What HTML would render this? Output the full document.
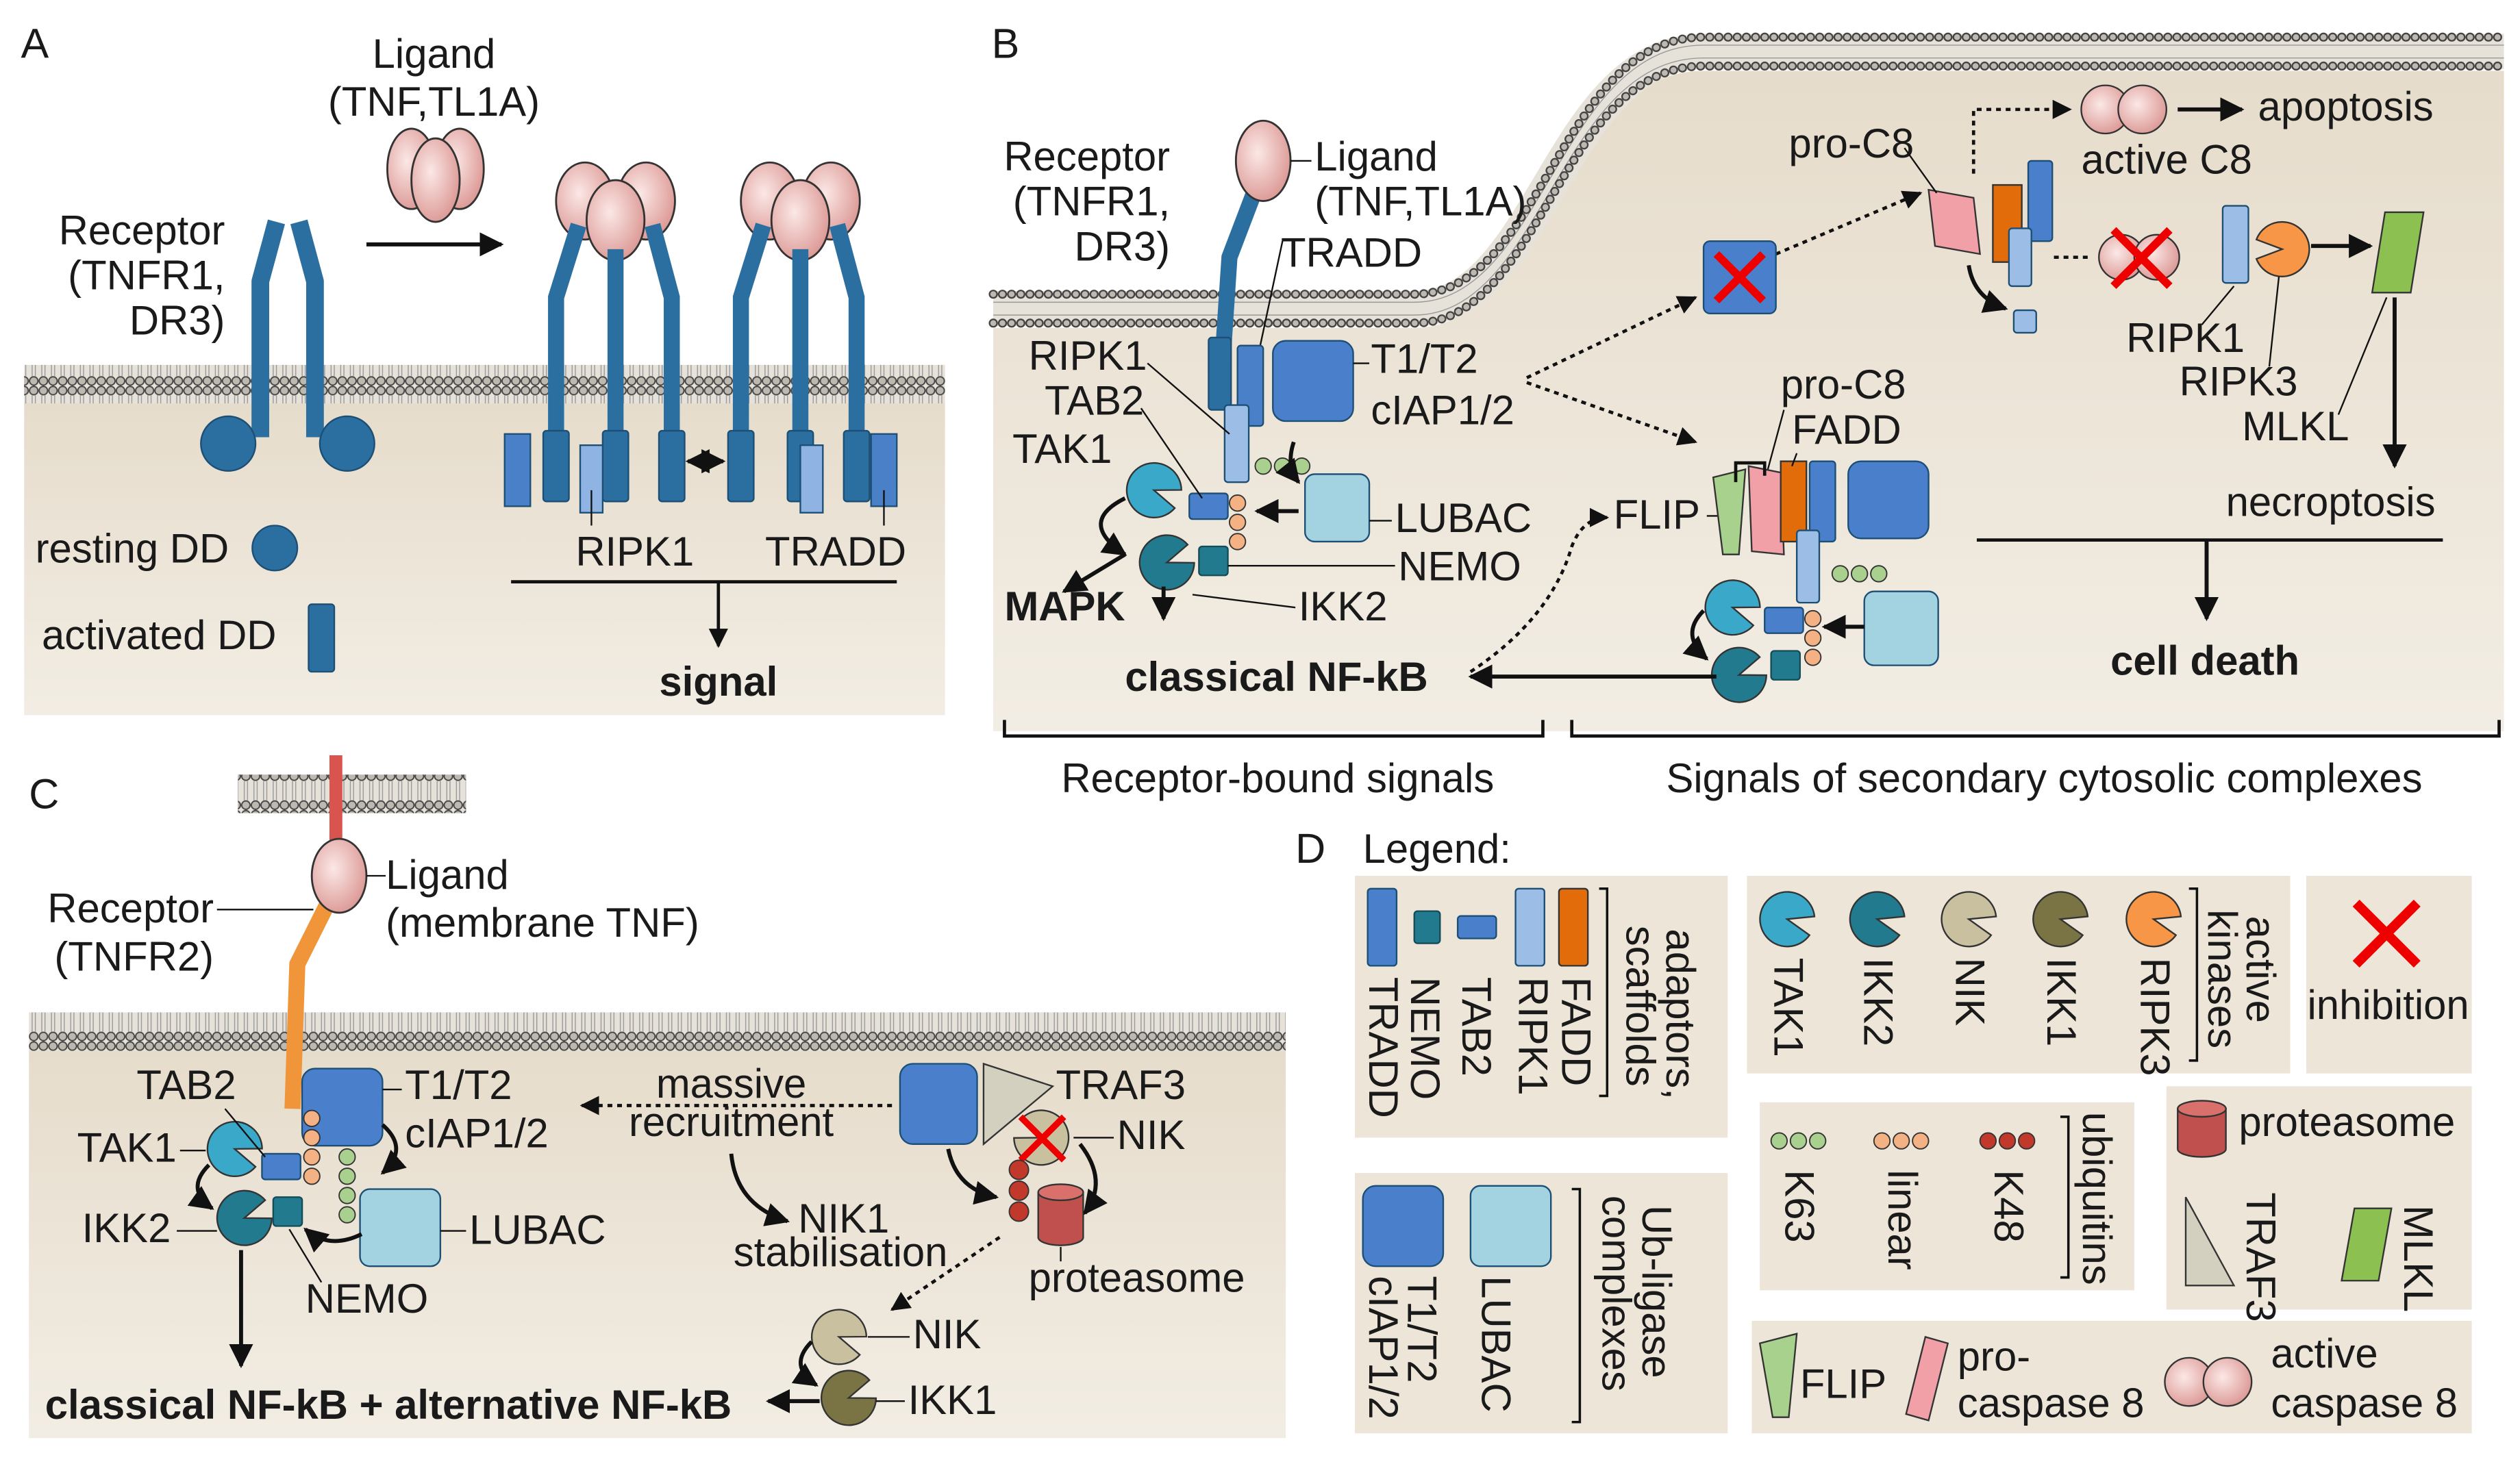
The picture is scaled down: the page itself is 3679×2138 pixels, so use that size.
<!DOCTYPE html>
<html><head><meta charset="utf-8"><style>
html,body{margin:0;padding:0;background:#fff}
svg{display:block}
text{font-family:"Liberation Sans",sans-serif;font-size:25.5px;fill:#1a1a1a}
.b{font-weight:bold}
</style></head><body>
<svg width="3679" height="2138" viewBox="0 0 1568 911" xmlns="http://www.w3.org/2000/svg">
<defs>
<pattern id="mem" patternUnits="userSpaceOnUse" width="6" height="24">
<rect width="6" height="24" fill="#e6e2da"/>
<line x1="2" y1="6" x2="2" y2="18" stroke="#999" stroke-width="0.6"/>
<line x1="4" y1="6" x2="4" y2="18" stroke="#999" stroke-width="0.6"/>
<circle cx="3" cy="3" r="2.6" fill="#bdb8b0" stroke="#444" stroke-width="0.8"/>
<circle cx="3" cy="21" r="2.6" fill="#bdb8b0" stroke="#444" stroke-width="0.8"/>
</pattern>
<linearGradient id="cyt" x1="0" y1="0" x2="0" y2="1"><stop offset="0" stop-color="#e6dccb"/><stop offset="1" stop-color="#f2ede4"/></linearGradient>
<radialGradient id="pink" cx="0.4" cy="0.4" r="0.7"><stop offset="0" stop-color="#fbe8e6"/><stop offset="1" stop-color="#d9918d"/></radialGradient>
<path id="pac" d="M0,0 L16,-6 A17,17 0 1 0 16,6 Z" stroke="#333" stroke-width="1"/>
<marker id="ar" viewBox="0 0 10 10" refX="9" refY="5" markerWidth="6" markerHeight="6" orient="auto-start-reverse"><path d="M0,0 L10,5 L0,10 Z" fill="#111"/></marker>
</defs>

<!-- ===== Panel A ===== -->
<rect x="15" y="250" width="573" height="195" fill="url(#cyt)"/>
<rect x="15" y="227" width="573" height="24" fill="url(#mem)"/>
<text x="13" y="36" style="font-size:26px">A</text>
<text x="270" y="42" text-anchor="middle">Ligand</text>
<text x="270" y="72" text-anchor="middle">(TNF,TL1A)</text>
<g fill="url(#pink)" stroke="#333" stroke-width="1.2">
<ellipse cx="256" cy="105" rx="15" ry="25"/><ellipse cx="286" cy="105" rx="15" ry="25"/><ellipse cx="271" cy="112" rx="15" ry="26"/></g>
<line x1="228" y1="152" x2="312" y2="152" stroke="#111" stroke-width="2.5" marker-end="url(#ar)"/>
<text x="140" y="152" text-anchor="end">Receptor</text>
<text x="140" y="180" text-anchor="end">(TNFR1,</text>
<text x="140" y="208" text-anchor="end">DR3)</text>
<g stroke="#2b6ea0" stroke-width="11" fill="none" stroke-linejoin="round">
<path d="M172,138 L162,175 L162,272"/><path d="M186,138 L196,175 L196,272"/></g>
<g fill="#2b6ea0" stroke="#1d4f75" stroke-width="1"><circle cx="142" cy="276" r="17"/><circle cx="216" cy="276" r="17"/></g>
<g id="actA">
<g fill="url(#pink)" stroke="#333" stroke-width="1.2"><ellipse cx="364" cy="125" rx="18" ry="24"/><ellipse cx="402" cy="125" rx="18" ry="24"/><ellipse cx="383" cy="137" rx="18" ry="25"/></g>
<g stroke="#2b6ea0" stroke-width="10" fill="none"><path d="M360,140 L346,185 L346,300"/><path d="M383,155 L383,300"/><path d="M406,140 L418,185 L418,300"/></g>
<g fill="#2b6ea0" stroke="#1d4f75" stroke-width="1"><rect x="338" y="268" width="16" height="44" rx="2"/><rect x="375" y="268" width="16" height="44" rx="2"/><rect x="410" y="268" width="16" height="44" rx="2"/></g>
</g>
<use href="#actA" x="115"/>
<rect x="314" y="270" width="16" height="45" fill="#4a80c8" stroke="#1d4f75"/>
<rect x="361" y="277" width="14" height="42" fill="#8fb3e3" stroke="#1d4f75"/>
<rect x="498" y="277" width="14" height="42" fill="#8fb3e3" stroke="#1d4f75"/>
<rect x="542" y="270" width="16" height="45" fill="#4a80c8" stroke="#1d4f75"/>
<line x1="368" y1="305" x2="368" y2="327" stroke="#111"/><line x1="550" y1="305" x2="550" y2="327" stroke="#111"/>
<line x1="428" y1="287" x2="450" y2="287" stroke="#111" stroke-width="2.5" marker-end="url(#ar)" marker-start="url(#ar)"/>
<text x="395" y="352" text-anchor="middle">RIPK1</text>
<text x="520" y="352" text-anchor="middle">TRADD</text>
<line x1="318" y1="362" x2="558" y2="362" stroke="#111" stroke-width="2"/>
<line x1="447" y1="362" x2="447" y2="402" stroke="#111" stroke-width="2" marker-end="url(#ar)"/>
<text x="447" y="433" text-anchor="middle" class="b">signal</text>
<text x="22" y="350">resting DD</text>
<circle cx="171" cy="341" r="14" fill="#2b6ea0" stroke="#1d4f75"/>
<text x="26" y="404">activated DD</text>
<rect x="192" y="376" width="16" height="42" rx="2" fill="#2b6ea0" stroke="#1d4f75"/>

<!-- ===== Panel B ===== -->
<path d="M618,204 L880,204 C960,204 970,44 1060,44 L1558,44 L1558,455 L618,455 Z" fill="url(#cyt)"/>
<path d="M618,192 L880,192 C960,192 970,32 1060,32 L1558,32" fill="none" stroke="#e6e2da" stroke-width="22"/>
<g fill="none" stroke="#999" stroke-width="0.6">
<path d="M618,188 L880,188 C960,188 970,28 1060,28 L1558,28"/><path d="M618,196 L880,196 C960,196 970,36 1060,36 L1558,36"/></g>
<g fill="none" stroke-dasharray="0.1 5.6" stroke-linecap="round">
<path d="M618,183 L880,183 C960,183 970,23 1060,23 L1558,23" stroke="#444" stroke-width="5.6"/>
<path d="M618,201 L880,201 C960,201 970,41 1060,41 L1558,41" stroke="#444" stroke-width="5.6"/>
<path d="M618,183 L880,183 C960,183 970,23 1060,23 L1558,23" stroke="#bdb8b0" stroke-width="3.6"/>
<path d="M618,201 L880,201 C960,201 970,41 1060,41 L1558,41" stroke="#bdb8b0" stroke-width="3.6"/></g>
<text x="617" y="36" style="font-size:26px">B</text>
<text x="728" y="106" text-anchor="end">Receptor</text>
<text x="728" y="134" text-anchor="end">(TNFR1,</text>
<text x="728" y="162" text-anchor="end">DR3)</text>
<path d="M781,118 L765,160 L760,235" stroke="#2b6ea0" stroke-width="10" fill="none"/>
<ellipse cx="786" cy="100" rx="17" ry="25" fill="url(#pink)" stroke="#333" stroke-width="1.2"/>
<line x1="803" y1="100" x2="816" y2="100" stroke="#111"/>
<text x="818" y="106">Ligand</text>
<text x="818" y="134">(TNF,TL1A)</text>
<text x="797" y="166">TRADD</text>
<line x1="798" y1="150" x2="782" y2="225" stroke="#111"/>
<rect x="752" y="210" width="14" height="45" rx="2" fill="#2b6ea0" stroke="#1d4f75"/>
<rect x="770" y="215" width="16" height="50" rx="2" fill="#4a80c8" stroke="#1d4f75"/>
<rect x="792" y="212" width="50" height="50" rx="8" fill="#4a7fcc" stroke="#1d4f75"/>
<rect x="762" y="252" width="15" height="48" rx="2" fill="#9bbde6" stroke="#1d4f75"/>
<g fill="#a9d08e" stroke="#333" stroke-width="0.8"><circle cx="786" cy="290" r="5"/><circle cx="798" cy="290" r="5"/><circle cx="810" cy="290" r="5"/></g>
<rect x="812" y="295" width="40" height="42" rx="6" fill="#a3d3e0" stroke="#1d4f75"/>
<g fill="#f4b183" stroke="#333" stroke-width="0.8"><circle cx="770" cy="313" r="5"/><circle cx="770" cy="325" r="5"/><circle cx="770" cy="337" r="5"/></g>
<rect x="740" y="307" width="24" height="16" rx="2" fill="#4a7fcc" stroke="#1d4f75"/>
<rect x="746" y="340" width="18" height="18" rx="2" fill="#217a8e" stroke="#144c58"/>
<use href="#pac" transform="translate(718,305) rotate(20)" fill="#3aa9c9"/>
<use href="#pac" transform="translate(726,350) rotate(-20)" fill="#217a8e"/>
<text x="640" y="230">RIPK1</text><line x1="714" y1="226" x2="765" y2="270" stroke="#111"/>
<text x="650" y="258">TAB2</text><line x1="710" y1="254" x2="748" y2="310" stroke="#111"/>
<text x="630" y="288">TAK1</text>
<text x="853" y="232">T1/T2</text><line x1="842" y1="226" x2="852" y2="226" stroke="#111"/>
<text x="853" y="264">cIAP1/2</text>
<text x="868" y="331">LUBAC</text><line x1="852" y1="324" x2="866" y2="324" stroke="#111"/>
<text x="870" y="361">NEMO</text><line x1="764" y1="352" x2="868" y2="352" stroke="#111"/>
<text x="808" y="386">IKK2</text><line x1="742" y1="370" x2="806" y2="378" stroke="#111"/>
<path d="M808,300 Q800,290 805,275" fill="none" stroke="#111" stroke-width="2.5" marker-start="url(#ar)"/>
<line x1="808" y1="318" x2="782" y2="318" stroke="#111" stroke-width="2.5" marker-end="url(#ar)"/>
<path d="M700,310 Q670,325 700,345" fill="none" stroke="#111" stroke-width="2.5" marker-end="url(#ar)"/>
<line x1="700" y1="345" x2="662" y2="368" stroke="#111" stroke-width="2.5" marker-end="url(#ar)"/>
<line x1="724" y1="365" x2="724" y2="385" stroke="#111" stroke-width="2.5" marker-end="url(#ar)"/>
<text x="625" y="386" class="b">MAPK</text>
<text x="700" y="430" class="b">classical NF-kB</text>
<g fill="none" stroke="#111" stroke-width="2" stroke-dasharray="3 3">
<path d="M950,235 L1055,185" marker-end="url(#ar)"/>
<path d="M950,238 L1055,275" marker-end="url(#ar)"/>
<path d="M1105,158 L1195,120" marker-end="url(#ar)"/>
<path d="M1228,108 L1228,68 L1288,68" marker-end="url(#ar)"/>
<path d="M1278,160 L1300,160"/>
<path d="M915,418 Q965,385 978,340 Q985,322 1000,322" marker-end="url(#ar)"/>
</g>
<line x1="1062" y1="321" x2="1070" y2="321" stroke="#111"/>
<rect x="1060" y="150" width="45" height="45" rx="4" fill="#4a7fcc" stroke="#1d4f75"/>
<path d="M1068,158 L1097,187 M1097,158 L1068,187" stroke="#e00" stroke-width="5"/>
<path d="M1200,118 L1228,123 L1232,158 L1204,153 Z" fill="#f2a0a8" stroke="#333"/>
<rect x="1240" y="115" width="18" height="48" fill="#e36c0a" stroke="#333"/>
<rect x="1262" y="100" width="15" height="50" rx="2" fill="#4a7fcc" stroke="#1d4f75"/>
<rect x="1250" y="142" width="14" height="36" rx="2" fill="#9bbde6" stroke="#1d4f75"/>
<rect x="1253" y="193" width="14" height="14" rx="2" fill="#9bbde6" stroke="#1d4f75"/>
<path d="M1225,165 Q1228,185 1248,192" fill="none" stroke="#111" stroke-width="2.5" marker-end="url(#ar)"/>
<text x="1113" y="98">pro-C8</text><line x1="1185" y1="92" x2="1205" y2="120" stroke="#111"/>
<g fill="url(#pink)" stroke="#333"><circle cx="1310" cy="68" r="15"/><circle cx="1333" cy="68" r="15"/></g>
<line x1="1355" y1="68" x2="1395" y2="68" stroke="#111" stroke-width="2.5" marker-end="url(#ar)"/>
<text x="1405" y="75">apoptosis</text>
<text x="1295" y="108">active C8</text>
<g fill="url(#pink)" stroke="#333"><circle cx="1320" cy="160" r="14"/><circle cx="1342" cy="160" r="14"/></g>
<path d="M1315,143 L1350,178 M1350,143 L1315,178" stroke="#e00" stroke-width="5"/>
<rect x="1383" y="128" width="16" height="48" rx="2" fill="#9bbde6" stroke="#1d4f75"/>
<use href="#pac" transform="translate(1420,155) rotate(180)" fill="#f79646"/>
<line x1="1438" y1="153" x2="1475" y2="153" stroke="#111" stroke-width="2.5" marker-end="url(#ar)"/>
<path d="M1484,132 L1508,132 L1500,182 L1476,182 Z" fill="#8cc152" stroke="#333"/>
<line x1="1490" y1="185" x2="1490" y2="290" stroke="#111" stroke-width="2.5" marker-end="url(#ar)"/>
<text x="1323" y="219">RIPK1</text><line x1="1370" y1="202" x2="1390" y2="178" stroke="#111"/>
<text x="1356" y="246">RIPK3</text><line x1="1412" y1="228" x2="1418" y2="172" stroke="#111"/>
<text x="1395" y="274">MLKL</text><line x1="1455" y1="258" x2="1485" y2="185" stroke="#111"/>
<text x="1385" y="321">necroptosis</text>
<line x1="1230" y1="336" x2="1520" y2="336" stroke="#111" stroke-width="2"/>
<line x1="1373" y1="336" x2="1373" y2="385" stroke="#111" stroke-width="2.5" marker-end="url(#ar)"/>
<text x="1372" y="420" text-anchor="middle" class="b">cell death</text>
<path d="M1066,297 L1086,292 L1082,345 L1072,345 Z" fill="#a9d18e" stroke="#333"/>
<path d="M1088,290 L1108,294 L1110,345 L1090,343 Z" fill="#f2a0a8" stroke="#333"/>
<rect x="1108" y="287" width="16" height="50" fill="#e36c0a" stroke="#333"/>
<rect x="1126" y="287" width="16" height="50" rx="2" fill="#4a7fcc" stroke="#1d4f75"/>
<rect x="1150" y="287" width="50" height="48" rx="8" fill="#4a7fcc" stroke="#1d4f75"/>
<rect x="1118" y="330" width="14" height="45" rx="2" fill="#9bbde6" stroke="#1d4f75"/>
<path d="M1080,300 L1080,288 L1098,288 L1098,296" fill="none" stroke="#111" stroke-width="2"/>
<g fill="#a9d08e" stroke="#333" stroke-width="0.8"><circle cx="1145" cy="357" r="5"/><circle cx="1157" cy="357" r="5"/><circle cx="1169" cy="357" r="5"/></g>
<rect x="1160" y="368" width="46" height="46" rx="6" fill="#a3d3e0" stroke="#1d4f75"/>
<g fill="#f4b183" stroke="#333" stroke-width="0.8"><circle cx="1128" cy="385" r="5"/><circle cx="1128" cy="397" r="5"/><circle cx="1128" cy="409" r="5"/></g>
<rect x="1098" y="378" width="24" height="16" rx="2" fill="#4a7fcc" stroke="#1d4f75"/>
<rect x="1102" y="405" width="18" height="18" rx="2" fill="#217a8e" stroke="#144c58"/>
<use href="#pac" transform="translate(1078,378) rotate(20)" fill="#3aa9c9"/>
<use href="#pac" transform="translate(1082,420) rotate(-20)" fill="#217a8e"/>
<path d="M1060,380 Q1045,395 1062,410" fill="none" stroke="#111" stroke-width="2.5" marker-end="url(#ar)"/>
<line x1="1160" y1="390" x2="1135" y2="390" stroke="#111" stroke-width="2.5" marker-end="url(#ar)"/>
<text x="1108" y="248">pro-C8</text><line x1="1110" y1="255" x2="1100" y2="292" stroke="#111"/>
<text x="1115" y="276">FADD</text><line x1="1118" y1="282" x2="1115" y2="290" stroke="#111"/>
<text x="1004" y="329">FLIP</text>
<line x1="1068" y1="421" x2="915" y2="421" stroke="#111" stroke-width="2.5" marker-end="url(#ar)"/>
<path d="M625,448 L625,458 L960,458 L960,448 M978,448 L978,458 L1555,458 L1555,448" fill="none" stroke="#111" stroke-width="2"/>
<text x="795" y="493" text-anchor="middle">Receptor-bound  signals</text>
<text x="1272" y="493" text-anchor="middle">Signals of secondary cytosolic complexes</text>

<!-- ===== Panel C ===== -->
<rect x="18" y="652" width="782" height="243" fill="url(#cyt)"/>
<rect x="18" y="630" width="782" height="24" fill="url(#mem)"/>
<rect x="148" y="482" width="142" height="24" fill="url(#mem)"/>
<text x="18" y="503" style="font-size:26px">C</text>
<line x1="209" y1="470" x2="209" y2="530" stroke="#d9534f" stroke-width="8"/>
<path d="M205,560 L185,600 L182,690" stroke="#f0953a" stroke-width="10" fill="none"/>
<ellipse cx="211" cy="545" rx="17" ry="23" fill="url(#pink)" stroke="#333" stroke-width="1.2"/>
<line x1="228" y1="545" x2="240" y2="545" stroke="#111"/>
<text x="240" y="553">Ligand</text>
<text x="240" y="583">(membrane TNF)</text>
<text x="133" y="574" text-anchor="end">Receptor</text>
<line x1="135" y1="566" x2="195" y2="566" stroke="#111"/>
<text x="133" y="604" text-anchor="end">(TNFR2)</text>
<rect x="188" y="665" width="50" height="48" rx="8" fill="#4a7fcc" stroke="#1d4f75"/>
<text x="252" y="684">T1/T2</text><line x1="238" y1="678" x2="250" y2="678" stroke="#111"/>
<text x="252" y="714">cIAP1/2</text>
<g fill="#f4b183" stroke="#333" stroke-width="0.8"><circle cx="194" cy="696" r="5"/><circle cx="194" cy="708" r="5"/><circle cx="194" cy="720" r="5"/><circle cx="194" cy="732" r="5"/></g>
<g fill="#a9d08e" stroke="#333" stroke-width="0.8"><circle cx="216" cy="720" r="5"/><circle cx="216" cy="732" r="5"/><circle cx="216" cy="744" r="5"/><circle cx="216" cy="756" r="5"/></g>
<rect x="224" y="740" width="50" height="48" rx="6" fill="#a3d3e0" stroke="#1d4f75"/>
<rect x="163" y="718" width="24" height="16" rx="2" fill="#4a7fcc" stroke="#1d4f75"/>
<rect x="170" y="745" width="18" height="18" rx="2" fill="#217a8e" stroke="#144c58"/>
<use href="#pac" transform="translate(146,715) rotate(20)" fill="#3aa9c9"/>
<use href="#pac" transform="translate(152,758) rotate(-20)" fill="#217a8e"/>
<text x="85" y="684">TAB2</text><line x1="140" y1="690" x2="165" y2="720" stroke="#111"/>
<text x="48" y="723">TAK1</text><line x1="112" y1="716" x2="128" y2="716" stroke="#111"/>
<text x="51" y="773">IKK2</text><line x1="110" y1="766" x2="135" y2="766" stroke="#111"/>
<text x="190" y="817">NEMO</text><line x1="180" y1="765" x2="200" y2="798" stroke="#111"/>
<text x="292" y="774">LUBAC</text><line x1="274" y1="766" x2="290" y2="766" stroke="#111"/>
<path d="M238,700 Q255,715 238,730" fill="none" stroke="#111" stroke-width="2.5" marker-end="url(#ar)"/>
<path d="M225,768 Q205,778 190,765" fill="none" stroke="#111" stroke-width="2.5" marker-end="url(#ar)"/>
<path d="M130,725 Q115,740 132,752" fill="none" stroke="#111" stroke-width="2.5" marker-end="url(#ar)"/>
<line x1="150" y1="778" x2="150" y2="850" stroke="#111" stroke-width="2.5" marker-end="url(#ar)"/>
<text x="28" y="883" class="b">classical NF-kB + alternative NF-kB</text>
<line x1="555" y1="688" x2="362" y2="688" stroke="#111" stroke-width="2" stroke-dasharray="3 3" marker-end="url(#ar)"/>
<text x="455" y="683" text-anchor="middle">massive</text>
<text x="455" y="707" text-anchor="middle">recruitment</text>
<path d="M455,718 Q458,750 490,760" fill="none" stroke="#111" stroke-width="2.5" marker-end="url(#ar)"/>
<text x="525" y="767" text-anchor="middle">NIK1</text>
<text x="523" y="788" text-anchor="middle">stabilisation</text>
<rect x="560" y="662" width="48" height="50" rx="8" fill="#4a7fcc" stroke="#1d4f75"/>
<path d="M612,662 L612,712 L655,676 Z" fill="#d4d0c0" stroke="#333"/>
<text x="657" y="684">TRAF3</text>
<use href="#pac" transform="translate(648,708) rotate(200)" fill="#c9c0a0"/>
<path d="M635,695 L662,722 M662,695 L635,722" stroke="#e00" stroke-width="4"/>
<text x="695" y="715">NIK</text><line x1="668" y1="708" x2="693" y2="708" stroke="#111"/>
<g fill="#c0392b" stroke="#333" stroke-width="0.8"><circle cx="634" cy="728" r="6"/><circle cx="634" cy="741" r="6"/><circle cx="634" cy="754" r="6"/></g>
<path d="M646,742 L646,770 A14,5 0 0 0 674,770 L674,742 Z" fill="#c0504d" stroke="#333"/>
<ellipse cx="660" cy="742" rx="14" ry="5" fill="#d9706c" stroke="#333"/>
<text x="640" y="804">proteasome</text><line x1="660" y1="776" x2="660" y2="785" stroke="#111"/>
<path d="M590,715 Q595,740 620,745" fill="none" stroke="#111" stroke-width="2.5" marker-end="url(#ar)"/>
<path d="M672,712 Q690,735 675,755" fill="none" stroke="#111" stroke-width="2.5" marker-end="url(#ar)"/>
<line x1="622" y1="770" x2="555" y2="815" stroke="#111" stroke-width="2" stroke-dasharray="3 3" marker-end="url(#ar)"/>
<use href="#pac" transform="translate(522,832) rotate(20)" fill="#c9c0a0"/>
<use href="#pac" transform="translate(528,870) rotate(-20)" fill="#7a7444"/>
<path d="M505,835 Q490,850 508,862" fill="none" stroke="#111" stroke-width="2.5" marker-end="url(#ar)"/>
<text x="568" y="839">NIK</text><line x1="540" y1="832" x2="566" y2="832" stroke="#111"/>
<text x="565" y="880">IKK1</text><line x1="545" y1="872" x2="563" y2="872" stroke="#111"/>
<line x1="510" y1="872" x2="478" y2="872" stroke="#111" stroke-width="2.5" marker-end="url(#ar)"/>

<!-- ===== Panel D ===== -->
<text x="806" y="537" style="font-size:26px">D</text>
<text x="848" y="537">Legend:</text>
<g fill="#ece5d8">
<rect x="843" y="545" width="232" height="163"/><rect x="1087" y="545" width="338" height="123"/>
<rect x="1435" y="545" width="103" height="123"/><rect x="1095" y="686" width="233" height="117"/>
<rect x="1348" y="676" width="190" height="139"/><rect x="843" y="730" width="232" height="162"/>
<rect x="1090" y="822" width="448" height="70"/></g>
<rect x="851" y="553" width="18" height="48" rx="2" fill="#4a7fcc" stroke="#1d4f75"/>
<rect x="880" y="567" width="16" height="20" rx="2" fill="#217a8e" stroke="#144c58"/>
<rect x="907" y="570" width="24" height="14" rx="2" fill="#4a7fcc" stroke="#1d4f75"/>
<rect x="943" y="553" width="18" height="48" rx="2" fill="#9bbde6" stroke="#1d4f75"/>
<rect x="970" y="553" width="18" height="48" rx="2" fill="#e36c0a" stroke="#333"/>
<text transform="translate(852,608) rotate(90)">TRADD</text>
<text transform="translate(878,608) rotate(90)">NEMO</text>
<text transform="translate(910,608) rotate(90)">TAB2</text>
<text transform="translate(945,608) rotate(90)">RIPK1</text>
<text transform="translate(972,608) rotate(90)">FADD</text>
<text transform="translate(1037,578) rotate(90)">adaptors,</text>
<text transform="translate(1012,576) rotate(90)">scaffolds</text>
<path d="M995,553 L1000,553 L1000,682 L995,682" fill="none" stroke="#111" stroke-width="1.5"/>
<use href="#pac" transform="translate(1112,572) rotate(15)" fill="#3aa9c9"/>
<use href="#pac" transform="translate(1168,572) rotate(15)" fill="#217a8e"/>
<use href="#pac" transform="translate(1225,572) rotate(15)" fill="#c9c0a0"/>
<use href="#pac" transform="translate(1282,572) rotate(15)" fill="#7a7444"/>
<use href="#pac" transform="translate(1340,572) rotate(15)" fill="#f79646"/>
<text transform="translate(1104,596) rotate(90)">TAK1</text>
<text transform="translate(1160,596) rotate(90)">IKK2</text>
<text transform="translate(1217,596) rotate(90)">NIK</text>
<text transform="translate(1274,596) rotate(90)">IKK1</text>
<text transform="translate(1332,596) rotate(90)">RIPK3</text>
<path d="M1362,553 L1367,553 L1367,660 L1362,660" fill="none" stroke="#111" stroke-width="1.5"/>
<text transform="translate(1398,570) rotate(90)">active</text>
<text transform="translate(1374,566) rotate(90)">kinases</text>
<path d="M1466,562 L1504,600 M1504,562 L1466,600" stroke="#e00" stroke-width="6"/>
<text x="1486" y="634" text-anchor="middle">inhibition</text>
<g fill="#a9d08e" stroke="#333" stroke-width="0.8"><circle cx="1107" cy="710" r="5"/><circle cx="1119" cy="710" r="5"/><circle cx="1131" cy="710" r="5"/></g>
<g fill="#f4b183" stroke="#333" stroke-width="0.8"><circle cx="1171" cy="710" r="5"/><circle cx="1183" cy="710" r="5"/><circle cx="1195" cy="710" r="5"/></g>
<g fill="#c0392b" stroke="#333" stroke-width="0.8"><circle cx="1237" cy="710" r="5"/><circle cx="1249" cy="710" r="5"/><circle cx="1261" cy="710" r="5"/></g>
<text transform="translate(1111,728) rotate(90)">K63</text>
<text transform="translate(1175,728) rotate(90)">linear</text>
<text transform="translate(1241,728) rotate(90)">K48</text>
<path d="M1282,695 L1287,695 L1287,795 L1282,795" fill="none" stroke="#111" stroke-width="1.5"/>
<text transform="translate(1296,692) rotate(90)">ubiquitins</text>
<path d="M1355,690 L1355,715 A15,5 0 0 0 1385,715 L1385,690 Z" fill="#c0504d" stroke="#333"/>
<ellipse cx="1370" cy="690" rx="15" ry="5" fill="#d9706c" stroke="#333"/>
<text x="1393" y="707">proteasome</text>
<path d="M1360,745 L1360,800 L1390,800 Z" fill="#d4d0c0" stroke="#333"/>
<text transform="translate(1398,742) rotate(90)">TRAF3</text>
<path d="M1465,752 L1488,752 L1480,797 L1457,797 Z" fill="#8cc152" stroke="#333"/>
<text transform="translate(1496,750) rotate(90)">MLKL</text>
<rect x="848" y="738" width="50" height="50" rx="8" fill="#4a7fcc" stroke="#1d4f75"/>
<rect x="915" y="738" width="50" height="50" rx="6" fill="#a3d3e0" stroke="#1d4f75"/>
<text transform="translate(876,794) rotate(90)">T1/T2</text>
<text transform="translate(852,794) rotate(90)">cIAP1/2</text>
<text transform="translate(922,794) rotate(90)">LUBAC</text>
<path d="M978,740 L983,740 L983,885 L978,885" fill="none" stroke="#111" stroke-width="1.5"/>
<text transform="translate(1022,750) rotate(90)">Ub-ligase</text>
<text transform="translate(997,744) rotate(90)">complexes</text>
<path d="M1095,836 L1118,830 L1113,882 L1103,882 Z" fill="#a9d18e" stroke="#333"/>
<text x="1120" y="870">FLIP</text>
<path d="M1198,832 L1212,836 L1200,884 L1186,880 Z" fill="#f2a0a8" stroke="#333"/>
<text x="1218" y="853">pro-</text>
<text x="1218" y="882">caspase 8</text>
<g fill="url(#pink)" stroke="#333"><circle cx="1362" cy="860" r="15"/><circle cx="1386" cy="860" r="15"/></g>
<text x="1413" y="851">active</text>
<text x="1413" y="882">caspase 8</text>
</svg>
</body></html>
